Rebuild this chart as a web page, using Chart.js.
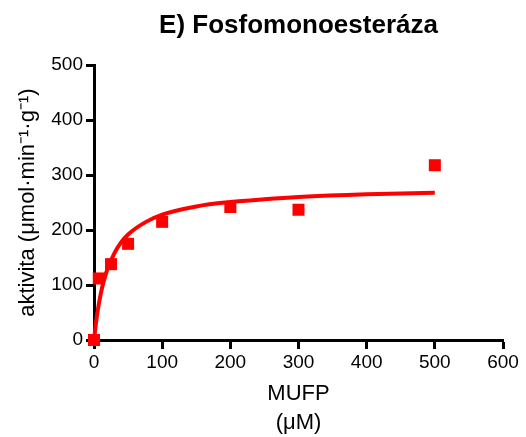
<!DOCTYPE html>
<html lang="en">
<head>
    <meta charset="UTF-8">
    <title>Fosfomonoesteráza</title>
    <script src="https://cdn.jsdelivr.net/npm/chart.js@4.4.1/dist/chart.umd.min.js"></script>
    <style>
      html, body { margin: 0; padding: 0; background: #fff; }
      .chart-wrap { width: 526px; height: 437px; }
    </style>
</head>
<body>
    <div class="chart-wrap">
        <canvas id="chart-e" width="526" height="437"></canvas>
    </div>

    <script>
      // measured points
      const substrate = [0, 7, 25, 50, 100, 200, 300, 500];
      const activity = [0, 112, 138, 175, 215, 242, 237, 318];

      // fitted curve
      const curveX = [0, 2, 5, 10, 15, 20, 30, 40, 50, 75, 100, 150, 200, 250, 300, 400, 500];
      const curveY = [0, 22, 50, 85, 110, 130, 158, 178, 192, 214, 228, 243, 251, 256, 260, 265, 268];

      const xTicks = [0, 100, 200, 300, 400, 500, 600];
      const yTicks = [0, 100, 200, 300, 400, 500];

      const red = '#ff0000';

      Chart.defaults.font.family = '"Liberation Sans", Arial, sans-serif';
      Chart.defaults.color = '#000';
      Chart.defaults.plugins.legend.display = false;
      Chart.defaults.plugins.tooltip.enabled = false;

      const axisbase = {
        type: 'linear',
        z: 1,
        border: { display: true, color: '#000', width: 3 },
        grid: {
          drawOnChartArea: false,
          drawTicks: true,
          tickColor: '#000',
          tickWidth: 3
        }
      };

      const config = {
        type: 'scatter',
        data: {
          datasets: [{
            label: 'fit',
            type: 'line',
            data: curveX.map((x, i) => ({ x: x, y: curveY[i] })),
            borderColor: red,
            borderWidth: 4,
            pointRadius: 0,
            cubicInterpolationMode: 'monotone',
            fill: false,
            clip: false
          }, {
            label: 'aktivita',
            data: substrate.map((x, i) => ({ x: x, y: activity[i] })),
            pointStyle: 'rect',
            pointRadius: 8.5,
            pointBorderWidth: 0,
            backgroundColor: red,
            borderColor: red,
            clip: false
          }]
        },
        options: {
          responsive: false,
          animation: false,
          layout: { padding: { left: 0, right: 23, top: 0, bottom: 0 } },
          plugins: {
            title: {
              display: true,
              fullSize: false,
              text: 'E) Fosfomonoesteráza',
              font: { size: 26, weight: 'bold' },
              padding: { top: 10, bottom: 24 }
            }
          },
          scales: {
            x: {
              ...axisbase,
              min: 0,
              max: 600,
              afterFit: (scale) => { scale.height = 97; },
              afterBuildTicks: (scale) => { scale.ticks = xTicks.map(v => ({ value: v })); },
              grid: { ...axisbase.grid, tickLength: 9 },
              ticks: { font: { size: 19 }, padding: 2, maxRotation: 0 },
              title: {
                display: true,
                text: ['MUFP', '(μM)'],
                font: { size: 22, lineHeight: 1.32 },
                padding: { top: 0, bottom: 0 }
              }
            },
            y: {
              ...axisbase,
              min: 0,
              max: 500,
              afterFit: (scale) => { scale.width = 94; },
              afterBuildTicks: (scale) => { scale.ticks = yTicks.map(v => ({ value: v })); },
              grid: { ...axisbase.grid, tickLength: 8 },
              ticks: { font: { size: 19 }, padding: 3 },
              title: {
                display: true,
                text: 'aktivita (μmol·min⁻¹·g⁻¹)',
                font: { size: 22 },
                padding: { top: 15, bottom: 0 }
              }
            }
          }
        }
      };

      new Chart(document.getElementById('chart-e'), config);
    </script>
</body>
</html>
